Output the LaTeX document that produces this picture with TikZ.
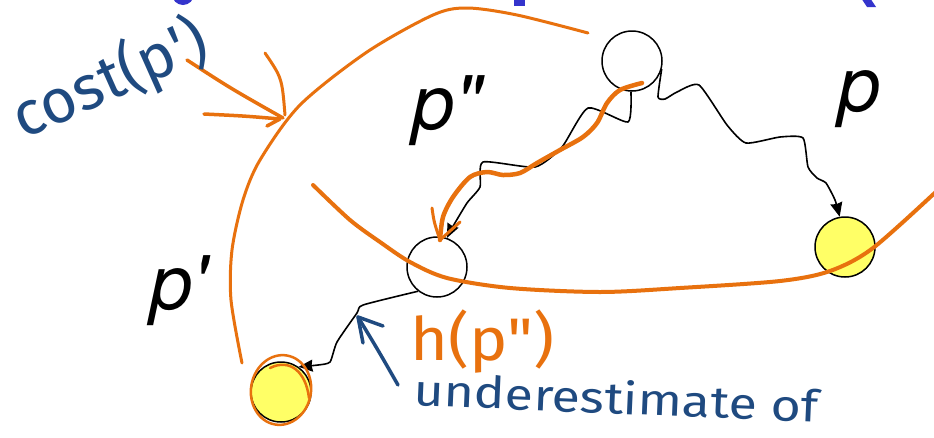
\documentclass[tikz,border=0pt]{standalone}
\usepackage{fontspec}
\setmainfont{TeX Gyre Heros}
\newfontfamily\handfont{Fira Sans}
\usetikzlibrary{arrows.meta}
\definecolor{hl}{HTML}{E8710E}
\definecolor{inkblue}{HTML}{1F4A80}
\definecolor{titleblue}{HTML}{3434CC}
\definecolor{goalyellow}{HTML}{FFFF66}
\begin{document}
\begin{tikzpicture}[x=1pt,y=-1pt,
  state/.style={circle,draw=black,line width=1.5pt,minimum size=60pt,inner sep=0pt},
  goal/.style={state,fill=goalyellow},
  wig/.style={line width=1.6pt,line join=round,-{Stealth[length=14pt,width=12pt,inset=1pt]}},
  hand/.style={hl,line width=3.5pt,line cap=round,line join=round},
  bluehand/.style={inkblue,line width=3.5pt,line cap=round,line join=round},
  lbl/.style={font=\fontsize{76}{80}\selectfont\itshape,inner sep=0pt,anchor=base west},
  handtxt/.style={font=\handfont,inner sep=0pt,anchor=base west},
]
\clip (0,0) rectangle (934,437);
\fill[white] (0,0) rectangle (934,437);

% fragments of a cut-off title
\fill[titleblue] (183,-6) circle (11);
\fill[titleblue] (514,-4) rectangle (525,6);
\fill[titleblue] (861,-2) -- (870,-2) -- (876,7) -- (867,7) -- cycle;

% states
\node[state] (s) at (632,61) {};
\node[state] (m) at (437,267) {};
\node[goal] (g1) at (845,247) {};
\node[goal] (g2) at (281,392) {};

% path labels
\node[lbl] (lp) at (838,111) {p};
\node[lbl] (lpp) at (412,129) {p\textquotedbl};
\node[lbl] (lp1) at (150,309) {p\textquotesingle};

% wiggly paths
\draw[wig] plot[smooth,tension=0.35] coordinates {(s.-92) (628,122) (588,108) (562,147) (535,167) (483,162) (480,187) (467,203) (452,228) (m.71)};
\draw[wig] plot[smooth,tension=0.35] coordinates {(s.-15) (658,97) (665,99) (677,92) (699,85) (727,125) (746,143) (780,137) (803,138) (808,167) (817,178) (826,183) (835,200) (g1.100)};
\draw[wig] plot[smooth,tension=0.35] coordinates {(m.-128) (363,305) (357,313) (337,342) (330,362) (318,365) (g2.55)};

% orange annotations
\draw[hand,line width=3pt] plot[smooth] coordinates {(242,363) (231,300) (232,250) (243,200) (260,160) (300,105) (367,52) (433,15) (467,8) (517,15) (588,33)};
\draw[hand,line width=4pt] plot[smooth] coordinates {(313,185) (350,220) (380,242) (410,262) (447,278) (510,288) (600,292) (680,288) (780,281) (830,271) (873,248) (940,188)};
\draw[hand,line width=4.5pt] plot[smooth] coordinates {(642,83) (620,90) (607,103) (597,123) (583,137) (560,150) (537,163) (520,173) (503,175) (487,172) (470,177) (453,197) (443,217) (440,240)};
\draw[hand,line width=3pt] (432,208) .. controls (434,222) .. (440,240) -- (460,222);
% cost arrow
\draw[hand] (187,60) .. controls (230,88) .. (283,118);
\draw[hand] (204,114) .. controls (245,116) .. (280,119) -- (267,126);
\draw[hand,line width=3pt] (265,53) .. controls (282,78) .. (285,115);
% loop round the reached goal
\draw[hand,line width=2.5pt,rotate around={-10:(281,390)}] (281,390) ellipse (30 and 35);
\draw[hand,line width=2.5pt] (270,368) .. controls (290,358) and (306,372) .. (309,398);

% handwritten texts
\node[handtxt,text=inkblue,rotate=24,anchor=center] (cost) at (110,80) {\fontsize{62}{66}\selectfont cost(p\textquotesingle)};
\node[handtxt,text=hl] (h) at (410,360) {\fontsize{60}{64}\selectfont\scalebox{1.08}[1]{h(p\textquotedbl)}};
\node[handtxt,text=inkblue,rotate=-2.5] (under) at (413,405) {\fontsize{44}{48}\selectfont\scalebox{1.18}[1]{underestimate of}};

% blue pointer arrow
\coordinate (bt) at (358,317);
\draw[bluehand] (398,385) .. controls (378,350) .. (bt);
\draw[bluehand] (363,343) -- (bt) -- (383,326);
\end{tikzpicture}
\end{document}
